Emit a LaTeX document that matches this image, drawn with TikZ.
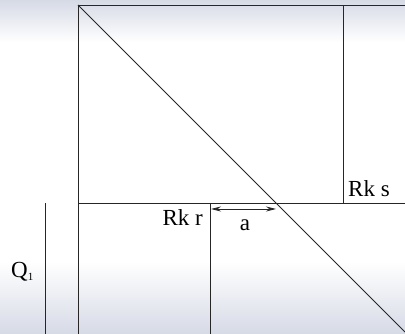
\documentclass[tikz,border=0pt]{standalone}
\usepackage{fontspec}
\setmainfont{Liberation Serif}
\usetikzlibrary{arrows.meta}
\definecolor{bgtint}{RGB}{214,218,230}
\tikzset{
  lbl/.style={font=\fontsize{23}{26}\selectfont, inner sep=0pt},
  ln/.style={draw=black!85, line width=0.9pt},
  dim/.style={ln, {Stealth[length=10pt,width=5pt]}-{Stealth[length=10pt,width=5pt]}}
}
\begin{document}
\begin{tikzpicture}[x=1pt,y=-1pt]
  \useasboundingbox (0,0) rectangle (405,334);
  % background
  \shade[top color=bgtint, bottom color=white] (0,0) rectangle (405,42);
  \shade[top color=white, bottom color=bgtint] (0,262) rectangle (405,334);
  % coordinates
  \coordinate (tl) at (78,5);
  \coordinate (tr) at (405,5);
  \coordinate (bl) at (78,334);
  \coordinate (br) at (405,332);
  \coordinate (st) at (343,5);
  \coordinate (sb) at (343,203);
  \coordinate (hl) at (78,203);
  \coordinate (hr) at (405,203);
  \coordinate (rt) at (210,203);
  \coordinate (rb) at (210,334);
  \coordinate (qt) at (45,203);
  \coordinate (qb) at (45,334);
  \coordinate (aL) at (211,209);
  \coordinate (aR) at (276,209);
  % lines
  \draw[ln] (tl) -- (tr);
  \draw[ln] (tl) -- (bl);
  \draw[ln] (tl) -- (br);
  \draw[ln] (st) -- (sb);
  \draw[ln] (hl) -- (hr);
  \draw[ln] (rt) -- (rb);
  \draw[ln] (qt) -- (qb);
  \draw[dim] (aL) -- (aR);
  % labels
  \node[lbl, anchor=base west] (rks) at (348,197) {Rk s};
  \node[lbl, anchor=base east] (rkr) at (203,226) {Rk r};
  \node[lbl, anchor=base] (a) at (245,231) {a};
  \node[lbl, anchor=base west] (q) at (11,278) {Q\raisebox{-3pt}{\fontsize{11}{12}\selectfont 1}};
\end{tikzpicture}
\end{document}
